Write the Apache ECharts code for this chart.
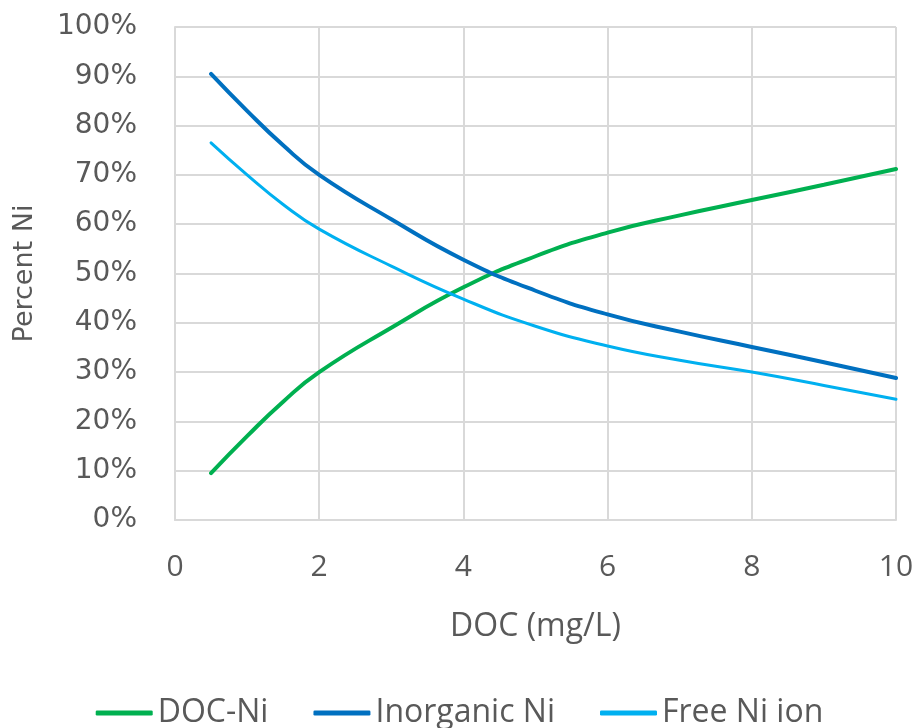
<!DOCTYPE html>
<html><head><meta charset="utf-8">
<script src="https://cdn.jsdelivr.net/npm/echarts@6/dist/echarts.min.js"></script>
<style>html,body{margin:0;padding:0;background:#fff}#c{width:919px;height:728px}</style>
</head><body><div id="c"></div>
<script>
const doc = [0.5, 1, 1.5, 2, 3, 4, 5, 6, 7, 8, 9, 10];
const docNi = [9.5, 17, 24, 30, 39, 47.2, 53.5, 58.3, 61.8, 64.9, 68, 71.2];
const inorganicNi = [90.5, 83, 76, 70, 61, 52.8, 46.5, 41.7, 38.2, 35.1, 32, 28.8];
const freeNi = [76.5, 70, 64, 59, 51.5, 44.8, 39.3, 35.3, 32.4, 30, 27.3, 24.5];
const seriesNames = ['DOC-Ni', 'Inorganic Ni', 'Free Ni ion'];
const colors = ['#00B050', '#0070C0', '#00B0F0'];
const widths = [4, 4, 3];
const FONT = 'Open Sans';
const YFONT = 'DejaVu Sans';
const pair = arr => doc.map((x, i) => [x, arr[i]]);
const chart = echarts.init(document.getElementById('c'), null, {renderer: 'canvas'});
chart.setOption({
  animation: false,
  textStyle: {fontFamily: FONT},
  grid: {left: 175, right: 23, top: 27, bottom: 208, containLabel: false, outerBoundsMode: 'none'},
  legend: {
    top: 692, left: 'center', itemWidth: 57, itemHeight: 5, itemGap: 45,
    icon: 'roundRect',
    textStyle: {fontFamily: FONT, fontSize: 32, color: '#595959'},
    data: seriesNames
  },
  xAxis: {
    type: 'value', min: 0, max: 10, interval: 2,
    name: 'DOC (mg/L)', nameLocation: 'middle', nameGap: 91,
    nameTextStyle: {fontFamily: FONT, fontSize: 32, color: '#595959'},
    axisLine: {show: true, lineStyle: {color: '#D9D9D9', width: 2}},
    axisTick: {show: false},
    axisLabel: {fontFamily: FONT, fontSize: 30, color: '#595959', margin: 32},
    splitLine: {show: true, lineStyle: {color: '#D9D9D9', width: 2}}
  },
  yAxis: {
    type: 'value', min: 0, max: 100, interval: 10,
    name: 'Percent Ni', nameLocation: 'middle', nameGap: 137,
    nameTextStyle: {fontFamily: YFONT, fontSize: 27, color: '#595959'},
    axisLine: {show: true, lineStyle: {color: '#D9D9D9', width: 2}},
    axisTick: {show: false},
    axisLabel: {fontFamily: YFONT, fontSize: 28, color: '#595959', margin: 38, formatter: v => v + '%'},
    splitLine: {show: true, lineStyle: {color: '#D9D9D9', width: 2}}
  },
  series: [docNi, inorganicNi, freeNi].map((arr, i) => ({
    name: seriesNames[i], type: 'line', data: pair(arr), smooth: 0.5,
    showSymbol: false, symbol: 'none',
    itemStyle: {color: colors[i]},
    lineStyle: {color: colors[i], width: widths[i], cap: 'round'}
  }))
});
</script></body></html>
